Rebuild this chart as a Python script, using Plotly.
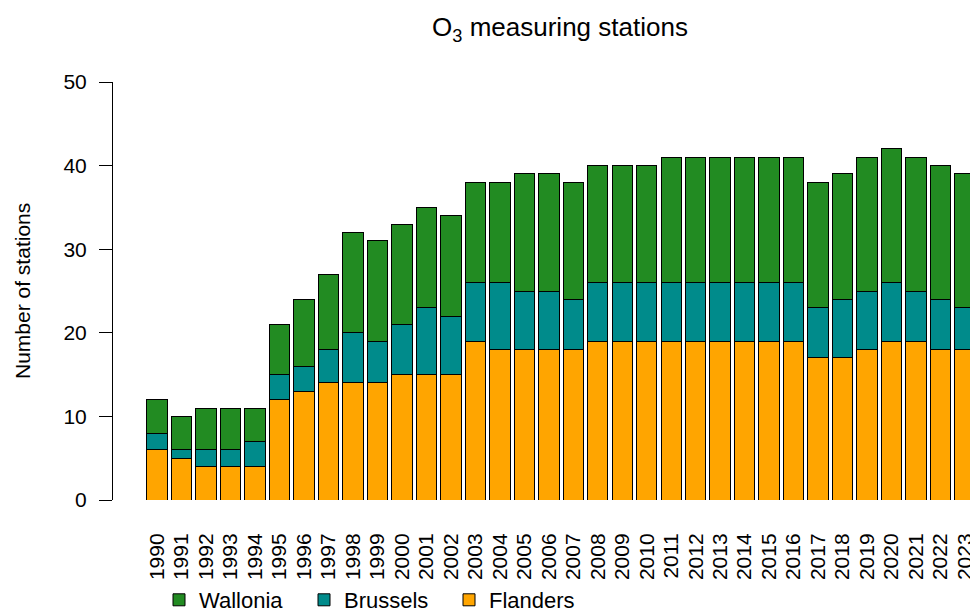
import plotly.graph_objects as go

years = [str(y) for y in range(1990, 2024)]
flanders = [6, 5, 4, 4, 4, 12, 13, 14, 14, 14, 15, 15, 15, 19, 18, 18, 18, 18,
            19, 19, 19, 19, 19, 19, 19, 19, 19, 17, 17, 18, 19, 19, 18, 18]
brussels = [2, 1, 2, 2, 3, 3, 3, 4, 6, 5, 6, 8, 7, 7, 8, 7, 7, 6,
            7, 7, 7, 7, 7, 7, 7, 7, 7, 6, 7, 7, 7, 6, 6, 5]
wallonia = [4, 4, 5, 5, 4, 6, 8, 9, 12, 12, 12, 12, 12, 12, 12, 14, 14, 14,
            14, 14, 14, 15, 15, 15, 15, 15, 15, 15, 15, 16, 16, 16, 16, 16]
y_ticks = [0, 10, 20, 30, 40, 50]

FONT = "Liberation Sans, Arial, sans-serif"
# page body has an 8px margin; figure is sized so it fills the 978x612 window
OFF = 8
W, H = 978 - OFF, 612 - OFF
L, R, T, B = 113 - OFF, 0, 82 - OFF, H - (500 - OFF)
PW = W - L - R
PH = H - T - B

fig = go.Figure()
for name, vals, col in [("Flanders", flanders, "#FFA500"),
                        ("Brussels", brussels, "#008B8B"),
                        ("Wallonia", wallonia, "#228B22")]:
    fig.add_trace(go.Bar(x=years, y=vals, name=name,
                         marker=dict(color=col, line=dict(color="black", width=1))))

fig.update_layout(
    width=W, height=H,
    barmode="stack", bargap=0.167,
    plot_bgcolor="white", paper_bgcolor="white",
    margin=dict(l=L, r=R, t=T, b=B, autoexpand=False),
    font=dict(family=FONT, size=21, color="black"),
    title=dict(text="O<sub>3</sub> measuring stations", x=(560 - OFF) / W, xanchor="center",
               xref="container", yref="container", y=1 - (27 - OFF) / H, yanchor="middle",
               font=dict(size=26, family=FONT, color="black")),
    xaxis=dict(type="category", range=[-1.8, 33.53], showline=False, showgrid=False,
               tickmode="array", tickvals=years, ticktext=years,
               ticks="outside", ticklen=24, tickcolor="rgba(0,0,0,0)",
               tickangle=-90, tickfont=dict(size=21)),
    yaxis=dict(range=[0, 50], tickvals=y_ticks, showgrid=False, zeroline=False,
               showline=True, linecolor="black", linewidth=1,
               ticks="outside", ticklen=13, tickwidth=1, tickcolor="black",
               ticklabelstandoff=8, tickfont=dict(size=21)),
    legend=dict(orientation="h", traceorder="reversed",
                x=(151 - L) / PW, xanchor="left",
                y=-(600 - 500) / PH, yanchor="middle",
                entrywidth=100, entrywidthmode="pixels",
                font=dict(size=22), bgcolor="rgba(0,0,0,0)"),
    annotations=[dict(text="Number of stations", textangle=-90, xref="paper", yref="paper",
                      x=(22 - OFF - L) / PW, y=0.5, xanchor="center", yanchor="middle",
                      showarrow=False, font=dict(size=21))],
)

fig.write_html("out.html")
